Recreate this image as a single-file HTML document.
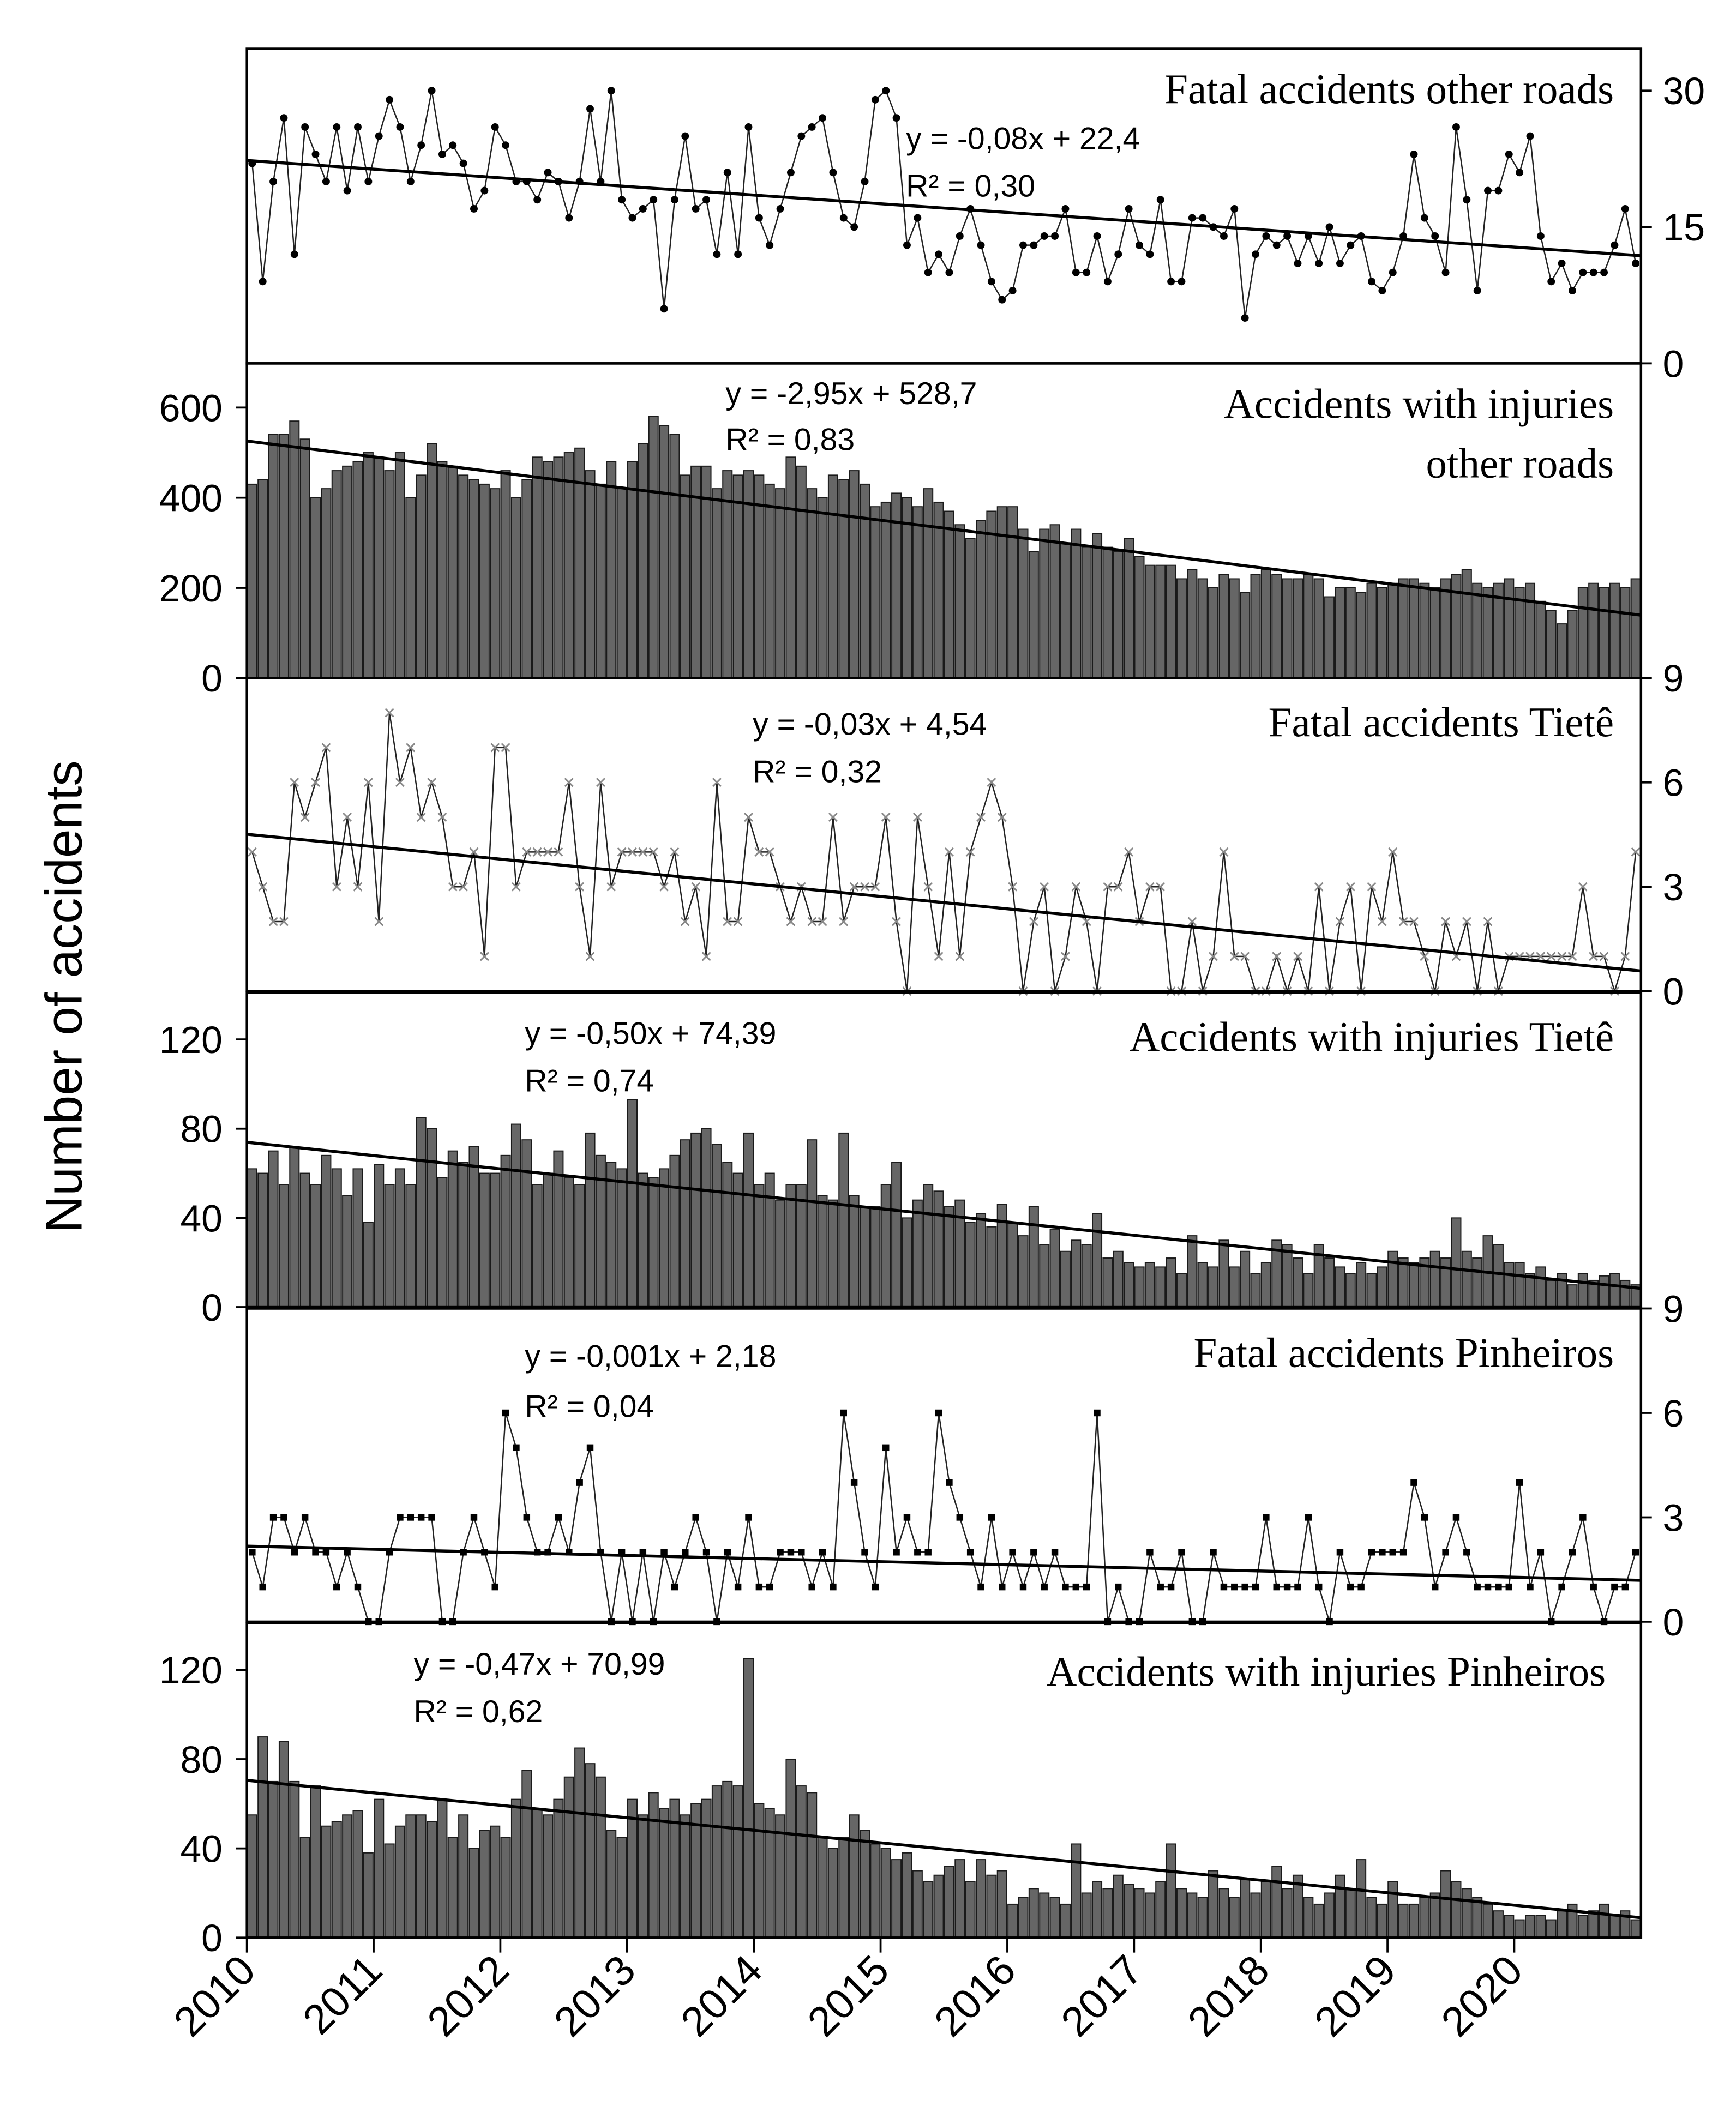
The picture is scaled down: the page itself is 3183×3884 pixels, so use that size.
<!DOCTYPE html>
<html><head><meta charset="utf-8">
<style>
html,body{margin:0;padding:0;background:#fff;}
svg{display:block;}
.sans{font-family:"Liberation Sans",sans-serif;}
.serif{font-family:"Liberation Serif",serif;}
</style></head>
<body>
<svg id="chart" width="3183" height="3884" viewBox="0 0 1280 1562" xmlns="http://www.w3.org/2000/svg">
<rect x="0" y="0" width="1280" height="1562" fill="#fff"/>
<text class="sans" font-size="38" transform="translate(60,735) rotate(-90)" text-anchor="middle">Number of accidents</text>
</svg>
<script>
const years = ["2010","2011","2012","2013","2014","2015","2016","2017","2018","2019","2020"];
const fatalOther = [22,9,20,27,12,26,23,20,26,19,26,20, 25,29,26,20,24,30,23,24,22,17,19,26, 24,20,20,18,21,20,16,20,28,20,30,18, 16,17,18,6,18,25,17,18,12,21,12,26, 16,13,17,21,25,26,27,21,16,15,20,29, 30,27,13,16,10,12,10,14,17,13,9,7, 8,13,13,14,14,17,10,10,14,9,12,17, 13,12,18,9,9,16,16,15,14,17,5,12, 14,13,14,11,14,11,15,11,13,14,9,8, 10,14,23,16,14,10,26,18,8,19,19,23, 21,25,14,9,11,8,10,10,10,13,17,11];
const injOther = [430,440,540,540,570,530,400,420,460,470,480,500, 490,460,500,400,450,520,480,470,450,440,430,420, 460,400,440,490,480,490,500,510,460,430,480,420, 480,520,580,560,540,450,470,470,420,460,450,460, 450,430,420,490,470,420,400,450,440,460,430,380, 390,410,400,380,420,390,370,340,310,350,370,380, 380,330,280,330,340,300,330,290,320,290,280,310, 270,250,250,250,220,240,220,200,230,220,190,230, 240,230,220,220,230,220,180,200,200,190,210,200, 210,220,220,210,200,220,230,240,210,200,210,220, 200,210,170,150,120,150,200,210,200,210,200,220];
const fatalTiete = [4,3,2,2,6,5,6,7,3,5,3,6, 2,8,6,7,5,6,5,3,3,4,1,7, 7,3,4,4,4,4,6,3,1,6,3,4, 4,4,4,3,4,2,3,1,6,2,2,5, 4,4,3,2,3,2,2,5,2,3,3,3, 5,2,0,5,3,1,4,1,4,5,6,5, 3,0,2,3,0,1,3,2,0,3,3,4, 2,3,3,0,0,2,0,1,4,1,1,0, 0,1,0,1,0,3,0,2,3,0,3,2, 4,2,2,1,0,2,1,2,0,2,0,1, 1,1,1,1,1,1,3,1,1,0,1,4];
const injTiete = [62,60,70,55,72,60,55,68,62,50,62,38, 64,55,62,55,85,80,58,70,65,72,60,60, 68,82,75,55,60,70,58,55,78,68,65,62, 93,60,58,62,68,75,78,80,73,65,60,78, 55,60,48,55,55,75,50,48,78,50,45,45, 55,65,40,48,55,52,45,48,38,42,36,46, 38,32,45,28,35,25,30,28,42,22,25,20, 18,20,18,22,15,32,20,18,30,18,25,15, 20,30,28,22,15,28,22,18,15,20,15,18, 25,22,20,22,25,22,40,25,22,32,28,20, 20,15,18,12,15,10,15,12,14,15,12,10];
const fatalPinheiros = [2,1,3,3,2,3,2,2,1,2,1,0, 0,2,3,3,3,3,0,0,2,3,2,1, 6,5,3,2,2,3,2,4,5,2,0,2, 0,2,0,2,1,2,3,2,0,2,1,3, 1,1,2,2,2,1,2,1,6,4,2,1, 5,2,3,2,2,6,4,3,2,1,3,1, 2,1,2,1,2,1,1,1,6,0,1,0, 0,2,1,1,2,0,0,2,1,1,1,1, 3,1,1,1,3,1,0,2,1,1,2,2, 2,2,4,3,1,2,3,2,1,1,1,1, 4,1,2,0,1,2,3,1,0,1,1,2];
const injPinheiros = [55,90,70,88,70,45,68,50,52,55,57,38, 62,42,50,55,55,52,62,45,55,40,48,50, 45,62,75,58,55,62,72,85,78,72,48,45, 62,55,65,58,62,55,60,62,68,70,68,125, 60,58,55,80,68,65,45,40,45,55,48,42, 40,35,38,30,25,28,32,35,25,35,28,30, 15,18,22,20,18,15,42,20,25,22,28,24, 22,20,25,42,22,20,18,30,22,18,26,20, 25,32,22,28,18,15,20,28,22,35,18,15, 25,15,15,18,20,30,25,22,18,15,12,10, 8,10,10,8,12,15,10,12,15,10,12,8];
const trendSlopes = [-0.08,-2.95,-0.03,-0.50,-0.0075,-0.47];
const trendIntercepts = [22.4,528.7,4.54,74.39,2.18,70.99];
const ticks1 = [0,15,30], ticks2 = [0,200,400,600], ticks3 = [0,3,6,9], ticks4 = [0,40,80,120];

const NS = "http://www.w3.org/2000/svg";
const svg = document.getElementById("chart");
const X0 = 182, X1 = 1210, NM = 132;
const xPos = i => X0 + (i + 0.5) * (X1 - X0) / NM;
function mk(tag, attrs, parent) {
  const e = document.createElementNS(NS, tag);
  for (const k in attrs) e.setAttribute(k, attrs[k]);
  (parent || svg).appendChild(e);
  return e;
}
const panels = [
  {top:36,bottom:268,max:34.6,data:fatalOther,type:"dot",ticks:ticks1,side:"right",title:["Fatal accidents other roads"],tx:1190,ty:[76],eq:["y = -0,08x + 22,4","R² = 0,30"],ex:668,ey:[110,145],name:"fatal-other-roads"},
  {top:268,bottom:500,max:698,data:injOther,type:"bar",ticks:ticks2,side:"left",title:["Accidents with injuries","other roads"],tx:1190,ty:[308,352],eq:["y = -2,95x + 528,7","R² = 0,83"],ex:535,ey:[298,332],name:"injuries-other-roads"},
  {top:500,bottom:731,max:9,data:fatalTiete,type:"x",ticks:ticks3,side:"right",title:["Fatal accidents Tietê"],tx:1190,ty:[543],eq:["y = -0,03x + 4,54","R² = 0,32"],ex:555,ey:[542,577],name:"fatal-tiete"},
  {top:732,bottom:964,max:141,data:injTiete,type:"bar",ticks:ticks4,side:"left",title:["Accidents with injuries Tietê"],tx:1190,ty:[775],eq:["y = -0,50x + 74,39","R² = 0,74"],ex:387,ey:[770,805],name:"injuries-tiete"},
  {top:965,bottom:1196,max:9,data:fatalPinheiros,type:"sq",ticks:ticks3,side:"right",title:["Fatal accidents Pinheiros"],tx:1190,ty:[1008],eq:["y = -0,001x + 2,18","R² = 0,04"],ex:387,ey:[1008,1045],name:"fatal-pinheiros"},
  {top:1197,bottom:1429,max:141,data:injPinheiros,type:"bar",ticks:ticks4,side:"left",title:["Accidents with injuries Pinheiros"],tx:1184,ty:[1243],eq:["y = -0,47x + 70,99","R² = 0,62"],ex:305,ey:[1235,1270],name:"injuries-pinheiros"}
];
panels.forEach((p, pi) => {
  const g = mk("g", {});
  
  
  const yPos = v => p.bottom - v / p.max * (p.bottom - p.top);
  const bw = (X1 - X0) / NM * 0.88;
  if (p.type === "bar") {
    p.data.slice(0, NM).forEach((v, i) => {
      const r = mk("rect", {x: xPos(i) - bw / 2, y: yPos(v), width: bw, height: p.bottom - yPos(v), fill: "#666", stroke: "#1a1a1a", "stroke-width": 0.8}, g);
      
      
    });
  } else {
    const pts = p.data.slice(0, NM).map((v, i) => xPos(i) + "," + yPos(v)).join(" ");
    const pl = mk("polyline", {points: pts, fill: "none", stroke: "#222", "stroke-width": 1}, g);
    
    
    p.data.slice(0, NM).forEach((v, i) => {
      const cx = xPos(i), cy = yPos(v);
      let m;
      if (p.type === "dot") m = mk("circle", {cx: cx, cy: cy, r: 2.8, fill: "#000"}, g);
      else if (p.type === "sq") m = mk("rect", {x: cx - 2.5, y: cy - 2.5, width: 5, height: 5, fill: "#000"}, g);
      else m = mk("path", {d: `M${cx-3},${cy-3}L${cx+3},${cy+3}M${cx-3},${cy+3}L${cx+3},${cy-3}`, stroke: "#888", "stroke-width": 1.2, fill: "none"}, g);
      
      
    });
  }
  const t0 = trendIntercepts[pi] + trendSlopes[pi] * 1, t1 = trendIntercepts[pi] + trendSlopes[pi] * NM;
  const tl = mk("line", {x1: X0, y1: yPos(t0), x2: X1, y2: yPos(t1), stroke: "#000", "stroke-width": 2.2}, g);
  
  
  const fr = mk("rect", {x: X0, y: p.top, width: X1 - X0, height: p.bottom - p.top, fill: "none", stroke: "#000", "stroke-width": 1.8}, g);
  
  
  p.ticks.forEach(t => {
    const y = yPos(t);
    const xe = p.side === "left" ? X0 : X1;
    const d = p.side === "left" ? -8 : 8;
    mk("line", {x1: xe, y1: y, x2: xe + d, y2: y, stroke: "#000", "stroke-width": 1.5}, g);
    const lb = mk("text", {x: p.side === "left" ? X0 - 18 : X1 + 16, y: y + 10, "font-size": 28, "text-anchor": p.side === "left" ? "end" : "start", class: "sans"}, g);
    lb.textContent = t;
    
    
  });
  p.title.forEach((s, k) => {
    const tt = mk("text", {x: p.tx, y: p.ty[k], "font-size": 31, "text-anchor": "end", class: "serif"}, g);
    tt.textContent = s;
    
    
  });
  p.eq.forEach((s, k) => {
    const et = mk("text", {x: p.ex, y: p.ey[k], "font-size": 23, class: "sans"}, g);
    et.textContent = s;
    
    
  });
});
years.forEach((yr, i) => {
  const x = X0 + i * 12 * (X1 - X0) / NM;
  mk("line", {x1: x, y1: 1430, x2: x, y2: 1440, stroke: "#000", "stroke-width": 1.5});
  const t = mk("text", {x: x + 8, y: 1455, "font-size": 31, "text-anchor": "end", class: "sans", transform: `rotate(-45 ${x + 8} 1455)`});
  t.textContent = yr;
  
  
});
</script>
</body></html>
